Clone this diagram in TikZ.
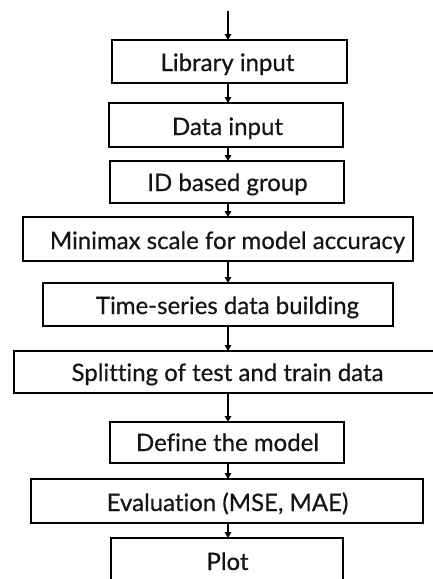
\documentclass[tikz,border=0pt]{standalone}
\usepackage{fontspec}
\setmainfont{Lato}[FakeBold=0.5, Ligatures={NoCommon}]
\usetikzlibrary{arrows.meta}
\tikzset{
  box/.style={draw=black, line width=2pt, fill=white, inner sep=0pt, outer sep=0pt},
  label/.style={anchor=base, inner sep=0pt, font=\fontsize{24}{24}\selectfont, text=black!92},
  flow/.style={draw=black, line width=1.5pt, -{Triangle[length=6pt,width=6.5pt]}}
}
% place a rectangle node from its corner coordinates (x1,x2,y1,y2)
\newcommand{\stepbox}[5]{%
  \pgfmathsetmacro{\bw}{#3-#2}%
  \pgfmathsetmacro{\bh}{#5-#4}%
  \node[box, minimum width=\bw pt, minimum height=\bh pt] (#1) at ({(#2+#3)/2},{(#4+#5)/2}) {};%
}
\begin{document}
\begin{tikzpicture}[x=1pt, y=-1pt]
  \useasboundingbox (0,0) rectangle (433,579);
  \fill[white] (0,0) rectangle (433,579);
  \clip (0,0) rectangle (433,579);

  % process boxes
  \stepbox{b1}{112}{347}{40}{83}
  \stepbox{b2}{109}{343}{103}{147}
  \stepbox{b3}{110}{344}{161}{203}
  \stepbox{b4}{23}{413}{217}{261}
  \stepbox{b5}{43}{393}{283}{326}
  \stepbox{b6}{14}{436}{351}{393}
  \stepbox{b7}{110}{344}{422}{463}
  \stepbox{b8}{31}{423}{479}{523}
  \stepbox{b9}{111}{343}{538}{600}

  % box texts
  \node[label] (t1) at (227.5,71) {Library input};
  \node[label] (t2) at (227.5,135) {Data input};
  \node[label] (t3) at (227.5,191) {ID based group};
  \node[label] (t4) at (227.5,249) {Minimax scale for model accuracy};
  \node[label] (t5) at (227.5,314) {Time-series data building};
  \node[label] (t6) at (227.5,381) {Splitting of test and train data};
  \node[label] (t7) at (227.5,451) {Define the model};
  \node[label] (t8) at (227.5,511) {Evaluation (MSE, MAE)};
  \node[label] (t9) at (227.5,570) {Plot};

  % incoming flow
  \coordinate (start) at (228,11);
  \draw[flow] (start) -- (start |- b1.north);

  % connectors between consecutive steps
  \foreach \a/\b in {b1/b2, b2/b3, b3/b4, b4/b5, b5/b6, b6/b7, b7/b8, b8/b9}
    \draw[flow] (start |- \a.south) -- (start |- \b.north);
\end{tikzpicture}
\end{document}
